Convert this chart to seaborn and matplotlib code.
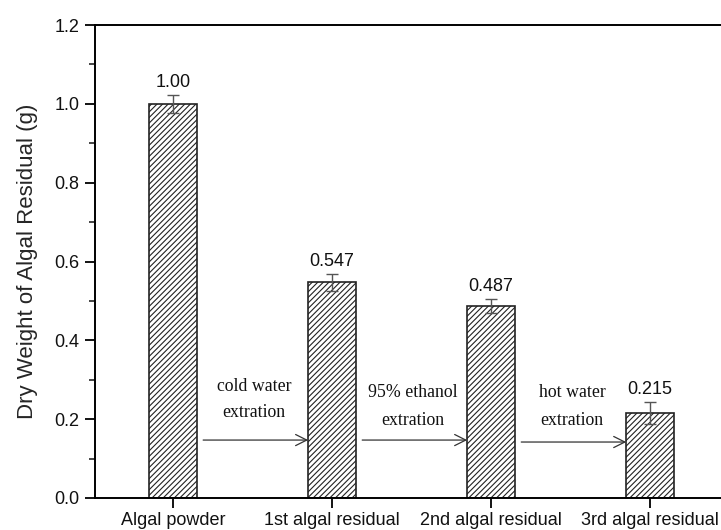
import matplotlib
matplotlib.use("Agg")
import matplotlib.pyplot as plt
import seaborn as sns
import pandas as pd
from matplotlib.ticker import MultipleLocator

sns.set_theme(style="white")
plt.rcParams["font.family"] = ["Liberation Sans", "DejaVu Sans"]
plt.rcParams["hatch.linewidth"] = 0.8

categories = ["Algal powder", "1st algal residual", "2nd algal residual", "3rd algal residual"]
weights = [1.00, 0.547, 0.487, 0.215]
errors = [0.023, 0.021, 0.017, 0.028]
value_labels = ["1.00", "0.547", "0.487", "0.215"]
step_lines = [("cold water", "extration"), ("95% ethanol", "extration"), ("hot water", "extration")]

df = pd.DataFrame({"sample": categories, "weight": weights})

fig = plt.figure(figsize=(7.21, 5.30), dpi=100)
ax = fig.add_axes([95 / 721, 32 / 530, 633 / 721, 473 / 530])

sns.barplot(data=df, x="sample", y="weight", ax=ax, width=0.30,
            color="white", edgecolor="#222222", linewidth=1.2, errorbar=None)
for p in ax.patches:
    p.set_hatch("//////")
    p.set_facecolor("white")

xs = list(range(len(categories)))
ax.errorbar(xs, weights, yerr=errors, fmt="none", ecolor="#555555",
            elinewidth=1.0, capsize=4, capthick=1.0, zorder=5)

for x, w, e, lab in zip(xs, weights, errors, value_labels):
    ax.text(x, w + e + 0.010, lab, ha="center", va="bottom", fontsize=13, color="#111111")

# process arrows between consecutive samples
serif = ["Liberation Serif", "DejaVu Serif"]
for i, (l1, l2) in enumerate(step_lines):
    y_arrow = 0.147 if i < 2 else 0.142
    ax.annotate("", xy=(i + 0.85, y_arrow), xytext=(i + 0.19, y_arrow),
                arrowprops=dict(arrowstyle="->", color="#333333", lw=0.9,
                                mutation_scale=20, shrinkA=0, shrinkB=0))
    ytop = 0.284 if i == 0 else 0.268
    ybot = 0.218 if i == 0 else 0.196
    ax.text(i + 0.51, ytop, l1, ha="center", va="center", fontsize=12.8,
            family=serif, color="#111111")
    ax.text(i + 0.51, ybot, l2, ha="center", va="center", fontsize=12.8,
            family=serif, color="#111111")

ax.set_xlim(-0.49, 3.49)
ax.set_ylim(0, 1.2)
ax.yaxis.set_major_locator(MultipleLocator(0.2))
ax.yaxis.set_minor_locator(MultipleLocator(0.1))
ax.set_yticks([0.0, 0.2, 0.4, 0.6, 0.8, 1.0, 1.2])
ax.set_yticklabels(["0.0", "0.2", "0.4", "0.6", "0.8", "1.0", "1.2"])
ax.set_xlabel("")
ax.set_ylabel("Dry Weight of Algal Residual (g)", fontsize=16, labelpad=12)
ax.tick_params(axis="both", which="major", direction="out", length=7, width=1.3,
               labelsize=13, color="black", labelcolor="#111111",
               left=True, bottom=True)
ax.tick_params(axis="y", which="minor", direction="out", length=4, width=1.2, left=True)
ax.tick_params(axis="x", pad=3)
ax.tick_params(axis="y", pad=4)
for s in ax.spines.values():
    s.set_linewidth(1.4)
    s.set_color("black")
ax.grid(False)

fig.savefig("out.png", dpi=100)
